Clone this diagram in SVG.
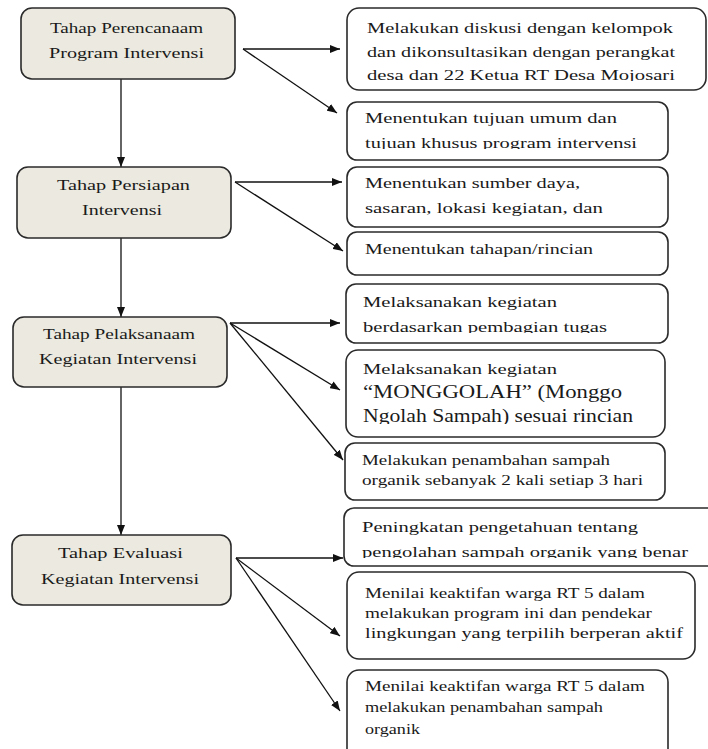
<svg xmlns="http://www.w3.org/2000/svg" width="708" height="749" viewBox="0 0 708 749" font-family="'Liberation Serif', 'DejaVu Serif', serif">
<style>
.stage{fill:#ECEAE0;stroke:#2a2a2a;stroke-width:1.6}
.item{fill:#ffffff;stroke:#2a2a2a;stroke-width:1.6}
text{font-family:'Liberation Serif','DejaVu Serif',serif;fill:#1a1a1a;font-size:15px}
.c{text-anchor:middle}
.big{font-size:18px}
.sm{font-size:14px}
.conn line{stroke:#111;stroke-width:1.3;marker-end:url(#ah)}
</style>
<defs>
<marker id="ah" markerUnits="userSpaceOnUse" markerWidth="10" markerHeight="8" refX="10" refY="4" orient="auto">
<path d="M0,0 L10,4 L0,8 Z" fill="#111"/>
</marker>
<clipPath id="cR1"><rect x="340" y="60" width="370" height="21"/></clipPath>
<clipPath id="cR2"><rect x="340" y="128" width="370" height="21"/></clipPath>
<clipPath id="cR5"><rect x="340" y="312" width="370" height="21"/></clipPath>
<clipPath id="cR6"><rect x="340" y="402" width="370" height="22"/></clipPath>
<clipPath id="cR8"><rect x="340" y="537" width="370" height="21"/></clipPath>
</defs>

<g class="conn" id="connectors">
<line x1="121" y1="79" x2="121" y2="167"/>
<line x1="121" y1="238" x2="121" y2="317"/>
<line x1="121" y1="387" x2="121" y2="535"/>
<line x1="243" y1="49" x2="340" y2="49"/>
<line x1="243" y1="49" x2="337" y2="113"/>
<line x1="235" y1="182" x2="342" y2="182"/>
<line x1="235" y1="182" x2="343" y2="251"/>
<line x1="230" y1="323" x2="340" y2="323"/>
<line x1="230" y1="323" x2="340" y2="390"/>
<line x1="230" y1="323" x2="343" y2="460"/>
<line x1="236" y1="558" x2="343" y2="558"/>
<line x1="236" y1="558" x2="340" y2="636"/>
<line x1="236" y1="558" x2="340" y2="711"/>
</g>

<g id="stage1">
<rect class="stage" x="21" y="8" width="214" height="71" rx="11"/>
<text class="c" x="126.5" y="33" textLength="153" lengthAdjust="spacingAndGlyphs">Tahap Perencanaam</text>
<text class="c" x="126.5" y="58" textLength="155" lengthAdjust="spacingAndGlyphs">Program Intervensi</text>
</g>
<g id="stage2">
<rect class="stage" x="17" y="167" width="214" height="71" rx="11"/>
<text class="c" x="123.5" y="190" textLength="133" lengthAdjust="spacingAndGlyphs">Tahap Persiapan</text>
<text class="c" x="122" y="215" textLength="80" lengthAdjust="spacingAndGlyphs">Intervensi</text>
</g>
<g id="stage3">
<rect class="stage" x="13" y="317" width="214" height="70" rx="11"/>
<text class="c" x="119" y="339" textLength="152" lengthAdjust="spacingAndGlyphs">Tahap Pelaksanaam</text>
<text class="c" x="118" y="364" textLength="158" lengthAdjust="spacingAndGlyphs">Kegiatan Intervensi</text>
</g>
<g id="stage4">
<rect class="stage" x="12" y="535" width="219" height="70" rx="11"/>
<text class="c" x="120.5" y="558" textLength="125" lengthAdjust="spacingAndGlyphs">Tahap Evaluasi</text>
<text class="c" x="120" y="584" textLength="158" lengthAdjust="spacingAndGlyphs">Kegiatan Intervensi</text>
</g>

<g id="item1">
<rect class="item" x="347" y="8" width="359" height="82" rx="12"/>
<text x="367" y="33" textLength="306" lengthAdjust="spacingAndGlyphs">Melakukan diskusi dengan kelompok</text>
<text x="367" y="57" textLength="308" lengthAdjust="spacingAndGlyphs">dan dikonsultasikan dengan perangkat</text>
<text x="367" y="80" textLength="308" lengthAdjust="spacingAndGlyphs" clip-path="url(#cR1)">desa dan 22 Ketua RT Desa Mojosari</text>
</g>
<g id="item2">
<rect class="item" x="347" y="102" width="321" height="58" rx="10"/>
<text x="365" y="123" textLength="252" lengthAdjust="spacingAndGlyphs">Menentukan tujuan umum dan</text>
<text x="365" y="148" textLength="272" lengthAdjust="spacingAndGlyphs" clip-path="url(#cR2)">tujuan khusus program intervensi</text>
</g>
<g id="item3">
<rect class="item" x="347" y="167" width="321" height="60" rx="10"/>
<text x="365" y="188" textLength="215" lengthAdjust="spacingAndGlyphs">Menentukan sumber daya,</text>
<text x="365" y="213" textLength="238" lengthAdjust="spacingAndGlyphs">sasaran, lokasi kegiatan, dan</text>
</g>
<g id="item4">
<rect class="item" x="347" y="232" width="321" height="43" rx="10"/>
<text x="365" y="254" textLength="228" lengthAdjust="spacingAndGlyphs">Menentukan tahapan/rincian</text>
</g>
<g id="item5">
<rect class="item" x="346" y="284" width="322" height="59" rx="10"/>
<text x="363" y="307" textLength="194" lengthAdjust="spacingAndGlyphs">Melaksanakan kegiatan</text>
<text x="363" y="332" textLength="244" lengthAdjust="spacingAndGlyphs" clip-path="url(#cR5)">berdasarkan pembagian tugas</text>
</g>
<g id="item6">
<rect class="item" x="346" y="350" width="319" height="87" rx="12"/>
<text x="363" y="374" textLength="194" lengthAdjust="spacingAndGlyphs">Melaksanakan kegiatan</text>
<text class="big" x="363" y="398" textLength="259" lengthAdjust="spacingAndGlyphs">“MONGGOLAH” (Monggo</text>
<text class="big" x="363" y="422" textLength="270" lengthAdjust="spacingAndGlyphs" clip-path="url(#cR6)">Ngolah Sampah) sesuai rincian</text>
</g>
<g id="item7">
<rect class="item" x="345" y="443" width="320" height="57" rx="10"/>
<text class="sm" x="362" y="465" textLength="248" lengthAdjust="spacingAndGlyphs">Melakukan penambahan sampah</text>
<text class="sm" x="362" y="485" textLength="281" lengthAdjust="spacingAndGlyphs">organik sebanyak 2 kali setiap 3 hari</text>
</g>
<g id="item8">
<rect class="item" x="344" y="508" width="400" height="58" rx="10"/>
<text x="362" y="532" textLength="276" lengthAdjust="spacingAndGlyphs">Peningkatan pengetahuan tentang</text>
<text x="362" y="557" textLength="326" lengthAdjust="spacingAndGlyphs" clip-path="url(#cR8)">pengolahan sampah organik yang benar</text>
</g>
<g id="item9">
<rect class="item" x="347" y="572" width="348" height="87" rx="12"/>
<text x="365" y="598" textLength="280" lengthAdjust="spacingAndGlyphs">Menilai keaktifan warga RT 5 dalam</text>
<text x="365" y="618" textLength="287" lengthAdjust="spacingAndGlyphs">melakukan program ini dan pendekar</text>
<text x="365" y="638" textLength="318" lengthAdjust="spacingAndGlyphs">lingkungan yang terpilih berperan aktif</text>
</g>
<g id="item10">
<rect class="item" x="347" y="670" width="321" height="100" rx="12"/>
<text x="365" y="691" textLength="280" lengthAdjust="spacingAndGlyphs">Menilai keaktifan warga RT 5 dalam</text>
<text x="365" y="712" textLength="238" lengthAdjust="spacingAndGlyphs">melakukan penambahan sampah</text>
<text x="365" y="734" textLength="55" lengthAdjust="spacingAndGlyphs">organik</text>
</g>
</svg>
